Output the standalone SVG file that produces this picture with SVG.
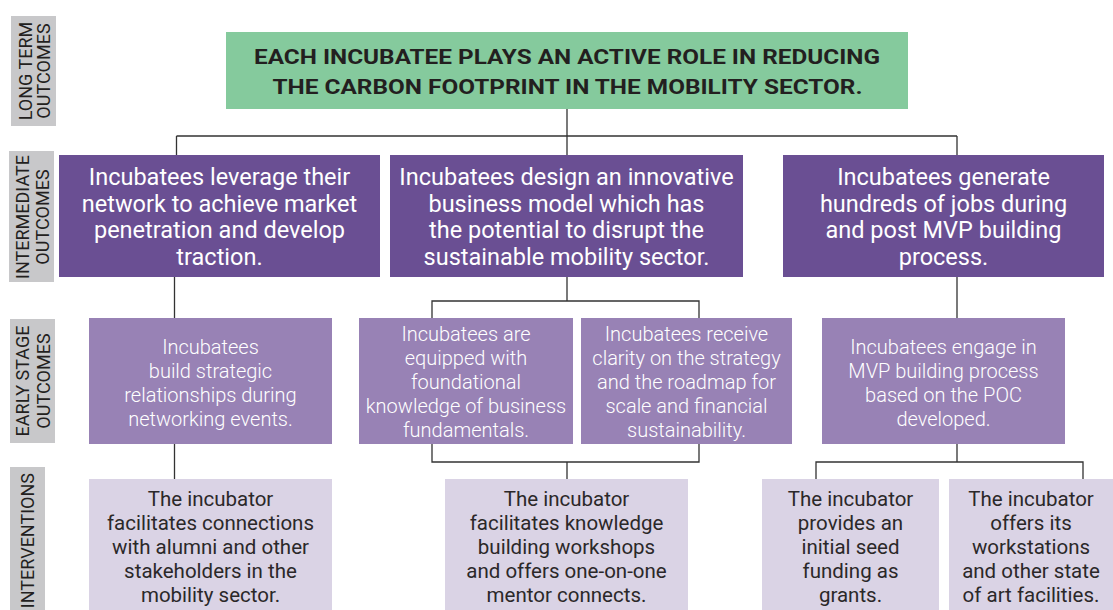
<svg xmlns="http://www.w3.org/2000/svg" width="1113" height="610" viewBox="0 0 1113 610">
<style>
.lbl{fill:#c8c8ca}
.lblt{font-family:Roboto,"Liberation Sans",sans-serif;font-size:18px;fill:#231f20;text-anchor:middle}
.goal{fill:#85ca9d}
.goalt{font-family:Roboto,"Liberation Sans",sans-serif;font-weight:700;font-size:20.5px;fill:#231f20;text-anchor:middle}
.inter{fill:#6a4f93}
.intert{font-family:Roboto,"Liberation Sans",sans-serif;font-size:23.5px;fill:#ffffff;text-anchor:middle}
.early{fill:#9882b5}
.earlyt{font-family:Roboto,"Liberation Sans",sans-serif;font-weight:300;font-size:20px;fill:#ffffff;text-anchor:middle}
.intv{fill:#dad3e5}
.intvt{font-family:Roboto,"Liberation Sans",sans-serif;font-weight:400;font-size:20.5px;fill:#2b2829;text-anchor:middle}
.con{fill:none;stroke:#333333;stroke-width:1.3}
</style>
<rect width="1113" height="610" fill="#ffffff"/>
<g id="row-labels">
<g id="lbl-long">
<rect class="lbl" x="11" y="16" width="45" height="110"/>
<g transform="translate(0,71) rotate(-90)"><text class="lblt" x="0" y="32">LONG TERM</text><text class="lblt" x="0" y="50">OUTCOMES</text></g>
</g>
<g id="lbl-intermediate">
<rect class="lbl" x="9" y="151" width="45" height="131"/>
<g transform="translate(0,217) rotate(-90)"><text class="lblt" x="0" y="28.5">INTERMEDIATE</text><text class="lblt" x="0" y="49">OUTCOMES</text></g>
</g>
<g id="lbl-early">
<rect class="lbl" x="10" y="319" width="45" height="124"/>
<g transform="translate(0,381) rotate(-90)"><text class="lblt" x="0" y="28.5">EARLY STAGE</text><text class="lblt" x="0" y="49.5">OUTCOMES</text></g>
</g>
<g id="lbl-interventions">
<rect class="lbl" x="10" y="467" width="35" height="150"/>
<g transform="translate(0,473) rotate(-90)"><text class="lblt" x="0" y="33.5" style="text-anchor:end">INTERVENTIONS</text></g>
</g>
</g>
<g id="connectors">
<path class="con" d="M567 108V136M176.5 136H957M176.5 136V155M567 136V155M957 136V155"/>
<path class="con" d="M174.5 277V318M174.5 444V479"/>
<path class="con" d="M567 277V301M432 318V301H699V318M432 444V462H699V444M567 462V479"/>
<path class="con" d="M957 277V318M957 444V462M816 479V462H1083V479"/>
</g>
<g id="goal">
<rect class="goal" x="226" y="32" width="682" height="77"/>
<text class="goalt" x="567" y="64" textLength="626" lengthAdjust="spacingAndGlyphs">EACH INCUBATEE PLAYS AN ACTIVE ROLE IN REDUCING</text>
<text class="goalt" x="567.5" y="94" textLength="590" lengthAdjust="spacingAndGlyphs">THE CARBON FOOTPRINT IN THE MOBILITY SECTOR.</text>
</g>
<g id="inter-1">
<rect class="inter" x="59" y="155" width="321" height="122"/>
<text class="intert" x="219.5" y="185">Incubatees leverage their</text>
<text class="intert" x="219.5" y="211.5">network to achieve market</text>
<text class="intert" x="219.5" y="238">penetration and develop</text>
<text class="intert" x="219.5" y="264.5">traction.</text>
</g>
<g id="inter-2">
<rect class="inter" x="390" y="155" width="353" height="122"/>
<text class="intert" x="566.5" y="185">Incubatees design an innovative</text>
<text class="intert" x="566.5" y="211.5">business model which has</text>
<text class="intert" x="566.5" y="238">the potential to disrupt the</text>
<text class="intert" x="566.5" y="264.5">sustainable mobility sector.</text>
</g>
<g id="inter-3">
<rect class="inter" x="783" y="155" width="321" height="122"/>
<text class="intert" x="943.5" y="185">Incubatees generate</text>
<text class="intert" x="943.5" y="211.5">hundreds of jobs during</text>
<text class="intert" x="943.5" y="238">and post MVP building</text>
<text class="intert" x="943.5" y="264.5">process.</text>
</g>
<g id="early-1">
<rect class="early" x="89" y="318" width="243" height="126"/>
<text class="earlyt" x="210.5" y="353.5">Incubatees</text>
<text class="earlyt" x="210.5" y="377.5">build strategic</text>
<text class="earlyt" x="210.5" y="401.5">relationships during</text>
<text class="earlyt" x="210.5" y="425.5">networking events.</text>
</g>
<g id="early-2">
<rect class="early" x="359" y="318" width="214" height="126"/>
<text class="earlyt" x="466" y="341">Incubatees are</text>
<text class="earlyt" x="466" y="365">equipped with</text>
<text class="earlyt" x="466" y="389">foundational</text>
<text class="earlyt" x="466" y="413">knowledge of business</text>
<text class="earlyt" x="466" y="437">fundamentals.</text>
</g>
<g id="early-3">
<rect class="early" x="581" y="318" width="211" height="126"/>
<text class="earlyt" x="686.5" y="341">Incubatees receive</text>
<text class="earlyt" x="686.5" y="365">clarity on the strategy</text>
<text class="earlyt" x="686.5" y="389">and the roadmap for</text>
<text class="earlyt" x="686.5" y="413">scale and financial</text>
<text class="earlyt" x="686.5" y="437">sustainability.</text>
</g>
<g id="early-4">
<rect class="early" x="822" y="318" width="243" height="126"/>
<text class="earlyt" x="943.5" y="353.5">Incubatees engage in</text>
<text class="earlyt" x="943.5" y="377.5">MVP building process</text>
<text class="earlyt" x="943.5" y="401.5">based on the POC</text>
<text class="earlyt" x="943.5" y="425.5">developed.</text>
</g>
<g id="intv-1">
<rect class="intv" x="89" y="479" width="243" height="140"/>
<text class="intvt" x="210.5" y="505.5">The incubator</text>
<text class="intvt" x="210.5" y="529.5">facilitates connections</text>
<text class="intvt" x="210.5" y="553.5">with alumni and other</text>
<text class="intvt" x="210.5" y="577.5">stakeholders in the</text>
<text class="intvt" x="210.5" y="601.5">mobility sector.</text>
</g>
<g id="intv-2">
<rect class="intv" x="445" y="479" width="243" height="140"/>
<text class="intvt" x="566.5" y="505.5">The incubator</text>
<text class="intvt" x="566.5" y="529.5">facilitates knowledge</text>
<text class="intvt" x="566.5" y="553.5">building workshops</text>
<text class="intvt" x="566.5" y="577.5">and offers one-on-one</text>
<text class="intvt" x="566.5" y="601.5">mentor connects.</text>
</g>
<g id="intv-3">
<rect class="intv" x="762" y="479" width="177" height="140"/>
<text class="intvt" x="850.5" y="505.5">The incubator</text>
<text class="intvt" x="850.5" y="529.5">provides an</text>
<text class="intvt" x="850.5" y="553.5">initial seed</text>
<text class="intvt" x="850.5" y="577.5">funding as</text>
<text class="intvt" x="850.5" y="601.5">grants.</text>
</g>
<g id="intv-4">
<rect class="intv" x="949" y="479" width="164" height="140"/>
<text class="intvt" x="1031" y="505.5">The incubator</text>
<text class="intvt" x="1031" y="529.5">offers its</text>
<text class="intvt" x="1031" y="553.5">workstations</text>
<text class="intvt" x="1031" y="577.5">and other state</text>
<text class="intvt" x="1031" y="601.5">of art facilities.</text>
</g>
</svg>
